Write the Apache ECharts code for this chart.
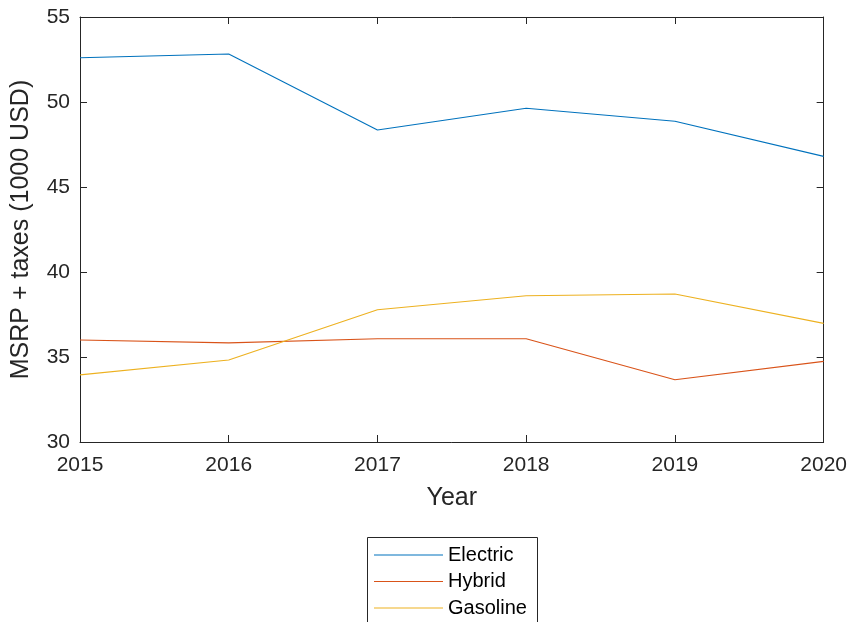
<!doctype html>
<html lang="en">
<head>
  <meta charset="UTF-8">
  <title>MSRP + taxes</title>
  <style>
    html, body { margin: 0; padding: 0; background: #fff; }
    #chart { width: 850px; height: 622px; }
  </style>
  <script src="https://cdn.jsdelivr.net/npm/echarts@6/dist/echarts.min.js"></script>
</head>
<body>
  <div id="chart"></div>
  <script>
    var years = [2015, 2016, 2017, 2018, 2019, 2020];
    var electric = [52.6, 52.82, 48.35, 49.63, 48.87, 46.8];
    var hybrid = [36.0, 35.83, 36.07, 36.07, 33.66, 34.74];
    var gasoline = [33.95, 34.82, 37.78, 38.6, 38.71, 36.98];

    function pairs(vals) {
      return years.map(function (y, i) { return [y, vals[i]]; });
    }

    var axisColor = '#262626';
    var font = 'Liberation Sans, Arial, sans-serif';
    // thin horizontal bar used as legend icon (plain line, no marker)
    var lineIcon = 'path://M0,0 L69,0 L69,1.1 L0,1.1 Z';

    function xAx(pos, show) {
      return {
        type: 'value', position: pos, min: 2015, max: 2020, interval: 1,
        axisLine: { show: true, lineStyle: { color: axisColor, width: 1 } },
        axisTick: { show: true, inside: true, length: 7, lineStyle: { color: axisColor } },
        axisLabel: { show: show, color: axisColor, fontSize: 21, fontFamily: font, margin: 13,
          formatter: function (v) { return String(v); } },
        splitLine: { show: false },
        name: show ? 'Year' : '', nameLocation: 'middle', nameGap: 44,
        nameTextStyle: { color: axisColor, fontSize: 25, fontFamily: font }
      };
    }
    function yAx(pos, show) {
      return {
        type: 'value', position: pos, min: 30, max: 55, interval: 5,
        axisLine: { show: true, lineStyle: { color: axisColor, width: 1 } },
        axisTick: { show: true, inside: true, length: 7, lineStyle: { color: axisColor } },
        axisLabel: { show: show, color: axisColor, fontSize: 21, fontFamily: font, margin: 10 },
        splitLine: { show: false },
        name: show ? 'MSRP + taxes (1000 USD)' : '', nameLocation: 'middle', nameGap: 46,
        nameTextStyle: { color: axisColor, fontSize: 25, fontFamily: font }
      };
    }

    var chart = echarts.init(document.getElementById('chart'));
    chart.setOption({
      animation: false,
      grid: { left: 80, top: 17, right: 26, bottom: 180 },
      xAxis: [xAx('bottom', true), xAx('top', false)],
      yAxis: [yAx('left', true), yAx('right', false)],
      // legend frame runs off the bottom edge, as in the original
      graphic: [{
        type: 'rect', left: 367, top: 537,
        shape: { width: 170, height: 120 },
        style: { fill: '#fff', stroke: '#262626', lineWidth: 1 },
        z: 0
      }],
      legend: {
        orient: 'vertical', left: 374, top: 545,
        padding: 0,
        itemWidth: 69, itemHeight: 20, itemGap: 6.5,
        textStyle: { color: '#000', fontSize: 20, fontFamily: font },
        z: 10,
        data: [
          { name: 'Electric', icon: lineIcon },
          { name: 'Hybrid', icon: lineIcon },
          { name: 'Gasoline', icon: lineIcon }
        ]
      },
      series: [
        { name: 'Electric', type: 'line', symbol: 'none', data: pairs(electric), lineStyle: { color: '#0072BD', width: 1.1 }, itemStyle: { color: '#0072BD' } },
        { name: 'Hybrid', type: 'line', symbol: 'none', data: pairs(hybrid), lineStyle: { color: '#D95319', width: 1.1 }, itemStyle: { color: '#D95319' } },
        { name: 'Gasoline', type: 'line', symbol: 'none', data: pairs(gasoline), lineStyle: { color: '#EDB120', width: 1.1 }, itemStyle: { color: '#EDB120' } }
      ]
    });
  </script>
</body>
</html>
